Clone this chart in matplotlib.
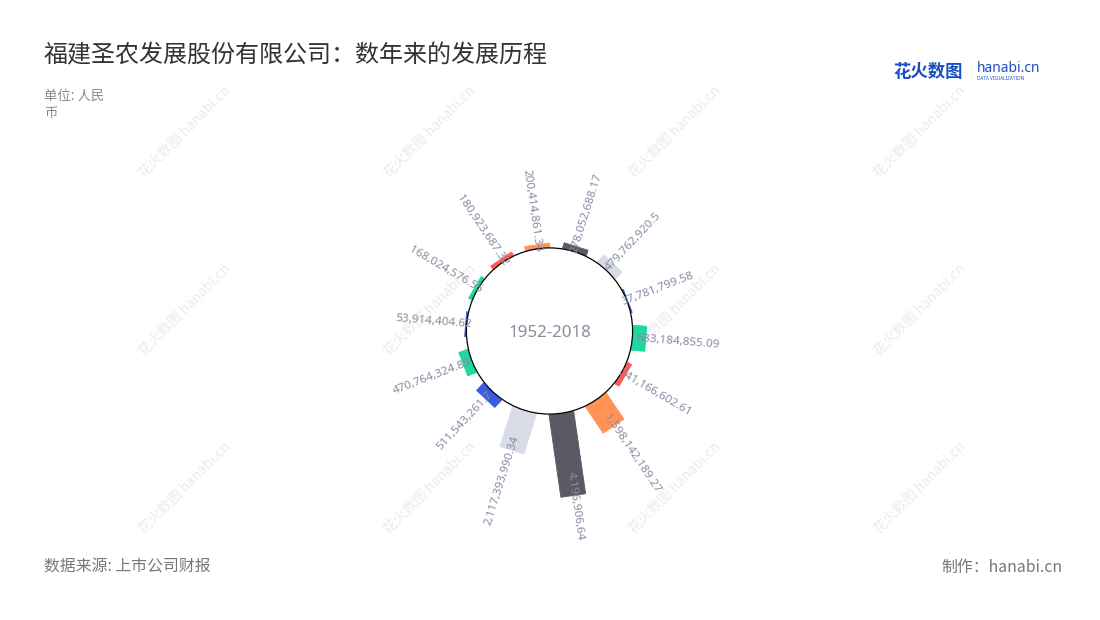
import numpy as np
import matplotlib
matplotlib.use("Agg")
import matplotlib.pyplot as plt
from matplotlib.patches import Rectangle, Circle

plt.rcParams['font.family'] = ['Noto Sans CJK SC', 'DejaVu Sans']

# values, clockwise starting just right of the top
values = [278052688.17, 479762920.5, 37781799.58, 683184855.09, 241166602.61,
          1598142189.27, 4196906640.0, 2117393990.34, 511543261.7, 470764324.89,
          53914404.62, 168024576.55, 180923687.32, 200414861.34]
labels = ["278,052,688.17", "479,762,920.5", "37,781,799.58", "683,184,855.09",
          "241,166,602.61", "1,598,142,189.27", "4,196,906,64", "2,117,393,990.34",
          "511,543,261.7", "470,764,324.89", "53,914,404.62", "168,024,576.55",
          "180,923,687.32", "200,414,861.34"]
colors = ["#5a5a64", "#d8dce6", "#3a5ce4", "#1ed8a0", "#ff5c57", "#ff9254",
          "#5a5a64", "#d8dce6", "#3a5ce4", "#1ed8a0", "#3a5ce4", "#1ed8a0",
          "#ff5c57", "#ff9254"]
period = "1952-2018"

W, H = 1100, 620
fig = plt.figure(figsize=(11, 6.2), dpi=100)
fig.patch.set_facecolor("white")

def fx(x):
    return x / W

def fy(y):
    return 1 - y / H

# watermark
for i in range(4):
    for j in range(3):
        fig.text(fx(185 + 245 * i), fy(132 + 178 * j), "花火数图 hanabi.cn", rotation=45,
                 ha="center", va="center", fontsize=10, color="#ebebeb", zorder=-1)

# axes in billions, 1 unit = scale px
scale = 19.8
cx, cy = 549.5, 331
ax = fig.add_axes([0, 0, 1, 1])
ax.set_xlim(-cx / scale, (W - cx) / scale)
ax.set_ylim(-(H - cy) / scale, cy / scale)
ax.axis("off")
ax.patch.set_visible(False)

vals = np.array(values) / 1e9
r0 = vals.max()
bar_w = 25 / scale
start = 17.5
step = 360 / len(vals)

for k in range(len(vals)):
    deg = start + k * step
    th = np.radians(deg)
    u = np.array([np.sin(th), np.cos(th)])
    n = np.array([-np.cos(th), np.sin(th)])
    xy = r0 * u - bar_w / 2 * n
    ax.add_patch(Rectangle(xy, vals[k], bar_w, angle=90 - deg, facecolor=colors[k],
                           edgecolor=colors[k], lw=0.6, zorder=2))
    ra = r0 + 0.78 * vals[k] - 6 / scale
    if deg % 360 < 180:
        rot, ha = 90 - deg, "left"
    else:
        rot, ha = 270 - deg, "right"
    ax.text(ra * u[0], ra * u[1], labels[k], rotation=rot, rotation_mode="anchor",
            ha=ha, va="center", fontsize=8.4, color="#8a8aa3", family="Noto Sans", zorder=5)

ax.add_patch(Circle((0, 0), r0, facecolor="white", edgecolor="black", lw=0.9, zorder=3))
ax.text(0, -0.1, period, ha="center", va="center", fontsize=12.2, color="#8b8b9f",
        family="Noto Sans", zorder=4)

# titles
fig.text(fx(44), fy(55), "福建圣农发展股份有限公司：数年来的发展历程", ha="left", va="center",
         fontsize=17.3, color="#333333")
fig.text(fx(44), fy(96), "单位: 人民", ha="left", va="center", fontsize=9.6, color="#888888")
fig.text(fx(44), fy(113), "币", ha="left", va="center", fontsize=9.6, color="#888888")
fig.text(fx(44), fy(567), "数据来源: 上市公司财报", ha="left", va="center", fontsize=11.4,
         color="#777777")
fig.text(fx(1062), fy(567), "制作：hanabi.cn", ha="right", va="center", fontsize=11.4,
         color="#777777")

# logo
fig.text(fx(893), fy(72), "花火数图", ha="left", va="center", fontsize=12.5,
         fontweight="bold", color="#1a4fc4")
fig.text(fx(977), fy(69), "hanabi.cn", ha="left", va="center", fontsize=10,
         fontweight="bold", color="#1a4fc4", family="Noto Sans")
fig.text(fx(977), fy(79), "DATA VISUALIZATION", ha="left", va="center", fontsize=3.3,
         color="#1a4fc4", family="Noto Sans")

fig.savefig("out.png", dpi=100, facecolor="white")
